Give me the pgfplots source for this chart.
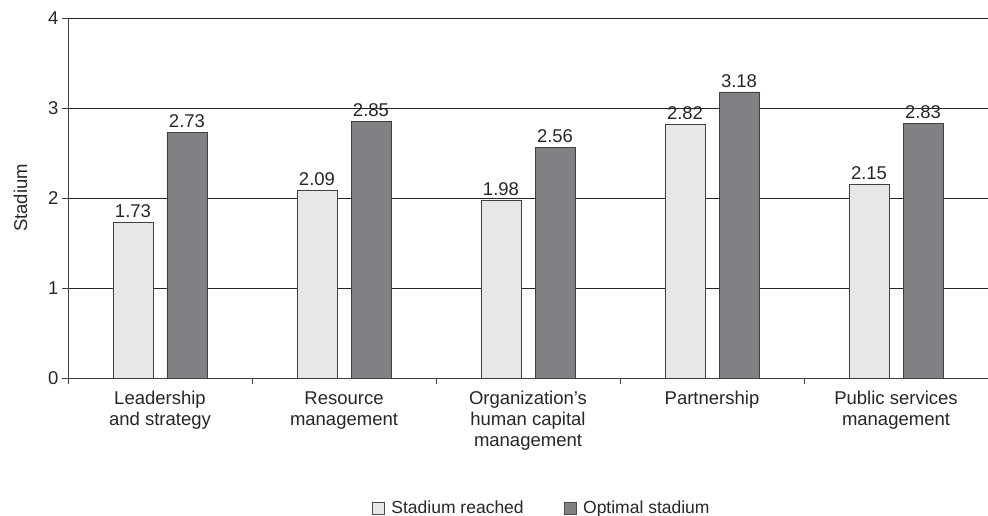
\documentclass[border=0pt]{standalone}
\usepackage{pgfplots}
\pgfplotsset{compat=1.18}
\usepackage{fontspec}
\setmainfont{Liberation Sans}
\definecolor{lightbar}{HTML}{E6E7E8}
\definecolor{darkbar}{HTML}{808184}
\begin{document}
\begin{tikzpicture}[font=\fontsize{18.5}{21}\selectfont]
\begin{axis}[
  scale only axis, width=920pt, height=360pt,
  xmin=0, xmax=5, ymin=0, ymax=4,
  axis x line*=bottom, axis y line*=left,
  axis line style={black!75, -},
  ytick={0,1,2,3,4},
  ymajorgrids, grid style={black!85, line width=0.6pt},
  xtick={0.5,1.5,2.5,3.5,4.5},
  xticklabels={{Leadership\\and strategy},{Resource\\management},{Organization's\\human capital\\management},{Partnership},{Public services\\management}},
  xticklabel style={align=center, text=black!85, yshift=-4pt},
  yticklabel style={text=black!85},
  major x tick style={draw=none},
  minor xtick={0,1,2,3,4,5},
  minor x tick style={black!75},
  tick align=outside,
  major tick length=6pt, minor tick length=6pt,
  y tick style={black!75},
  ylabel={Stadium}, ylabel style={text=black!85}, ylabel shift=14pt,
  /pgf/number format/assume math mode=true,
  ybar, bar width=40pt,
  nodes near coords,
  every node near coord/.append style={text=black!85, yshift=1pt, /pgf/number format/fixed, /pgf/number format/precision=2, /pgf/number format/fixed zerofill},
  legend columns=2,
  legend style={draw=none, font=\fontsize{17.5}{21}\selectfont, at={(0.515,-0.361)}, anchor=center, /tikz/every even column/.append style={column sep=38pt}, text=black!85},
  legend image code/.code={\draw[#1,draw=black!70] (0pt,-6pt) rectangle (12pt,6pt); \path (17pt,0pt);},
  clip=false,
]
\addplot[fill=lightbar, draw=black!75, bar shift=-27pt] coordinates {(0.5,1.73) (1.5,2.09) (2.5,1.98) (3.5,2.82) (4.5,2.15)};
\addplot[fill=darkbar, draw=black!75, bar shift=27pt] coordinates {(0.5,2.73) (1.5,2.85) (2.5,2.56) (3.5,3.18) (4.5,2.83)};
\legend{Stadium reached, Optimal stadium}
\end{axis}
\pgfresetboundingbox
\path[use as bounding box] (-68pt,-138pt) rectangle (920pt,378pt);
\end{tikzpicture}
\end{document}
